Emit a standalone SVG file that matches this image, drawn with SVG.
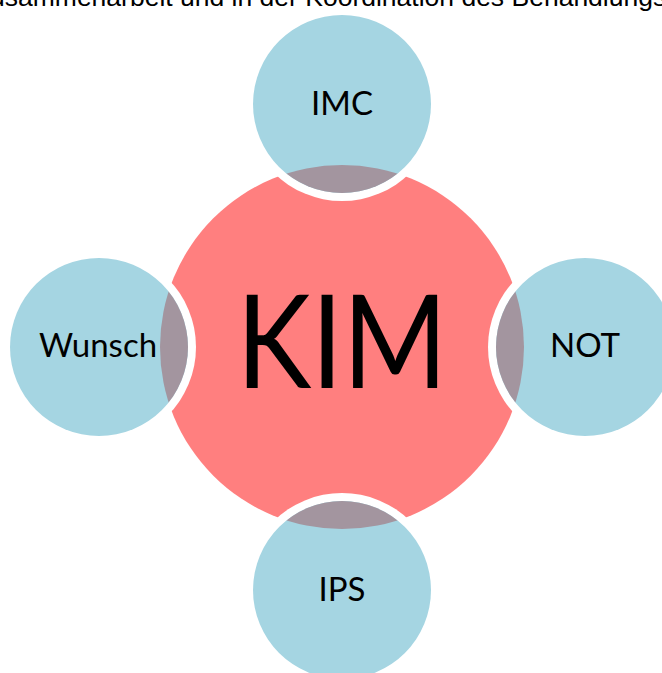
<svg xmlns="http://www.w3.org/2000/svg" width="662" height="673" viewBox="0 0 662 673">
<style>
.hub{fill:#FF7F7F}
.ring{fill:#FFFFFF}
.sat{fill:#A5D5E2}
.lens{fill:#A3959F}
.lbl{font-family:Lato,"Open Sans",sans-serif;font-size:33px;fill:#000;text-anchor:middle}
.big{font-family:Lato,"Open Sans",sans-serif;font-size:130px;fill:#000;text-anchor:middle}
.top{font-family:"Liberation Sans",Arial,sans-serif;font-size:26.5px;fill:#000}
</style>
<defs>
<clipPath id="cIMC"><circle cx="342" cy="104" r="89"/></clipPath>
<clipPath id="cIPS"><circle cx="342" cy="590" r="89"/></clipPath>
<clipPath id="cW"><circle cx="99" cy="347" r="89"/></clipPath>
<clipPath id="cN"><circle cx="585" cy="347" r="89"/></clipPath>
</defs>
<rect width="662" height="673" fill="#FFFFFF"/>
<text class="top" x="-10" y="6">usammenarbeit und in der Koordination des Behandlungs</text>
<g id="KIM">
<circle class="hub" cx="342" cy="347" r="182"/>
</g>
<g id="IMC">
<circle class="ring" cx="342" cy="104" r="97"/>
<circle class="sat" cx="342" cy="104" r="89"/>
<circle class="lens" cx="342" cy="347" r="182" clip-path="url(#cIMC)"/>
<text class="lbl" x="342" y="115">IMC</text>
</g>
<g id="IPS">
<circle class="ring" cx="342" cy="590" r="97"/>
<circle class="sat" cx="342" cy="590" r="89"/>
<circle class="lens" cx="342" cy="347" r="182" clip-path="url(#cIPS)"/>
<text class="lbl" x="342" y="601">IPS</text>
</g>
<g id="Wunsch">
<circle class="ring" cx="99" cy="347" r="97"/>
<circle class="sat" cx="99" cy="347" r="89"/>
<circle class="lens" cx="342" cy="347" r="182" clip-path="url(#cW)"/>
<text class="lbl" x="98" y="357">Wunsch</text>
</g>
<g id="NOT">
<circle class="ring" cx="585" cy="347" r="97"/>
<circle class="sat" cx="585" cy="347" r="89"/>
<circle class="lens" cx="342" cy="347" r="182" clip-path="url(#cN)"/>
<text class="lbl" x="585" y="357">NOT</text>
</g>
<g id="KIM-label">
<text class="big" x="342" y="388" textLength="211" lengthAdjust="spacingAndGlyphs">KIM</text>
</g>
</svg>
